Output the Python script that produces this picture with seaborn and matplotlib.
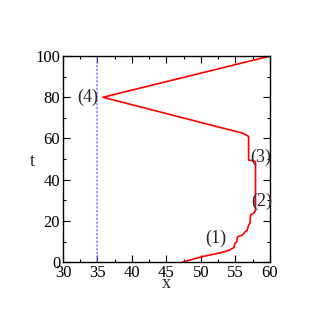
import matplotlib
matplotlib.use("Agg")
import matplotlib.pyplot as plt
import seaborn as sns
from matplotlib.ticker import MultipleLocator

# front path (x, t)
front_x = [47.3, 50.1, 52.8, 54.1, 54.8, 54.9, 55.2, 55.3, 56.0, 56.4, 56.7, 56.9,
           57.1, 57.2, 57.6, 57.9, 57.9, 57.6, 56.9, 56.9, 56.4, 56.0, 35.8, 60.0]
front_t = [0.0, 2.6, 4.5, 5.8, 7.1, 9.1, 9.9, 12.3, 13.1, 14.7, 15.5, 18.0,
           18.8, 23.1, 23.6, 25.0, 48.7, 49.2, 49.5, 61.0, 62.0, 62.6, 80.0, 100.0]

wall_x = [35, 35]
wall_t = [0, 100]

labels = ["(1)", "(2)", "(3)", "(4)"]
label_x = [52.2, 58.8, 58.7, 33.6]
label_t = [11.6, 29.6, 51.0, 80.0]

sns.set_style("ticks")
plt.rcParams['font.family'] = ['Liberation Serif', 'DejaVu Serif']

fig = plt.figure(figsize=(3.18, 3.26), dpi=100)
ax = fig.add_axes([0.198, 0.196, 0.651, 0.632])

sns.lineplot(x=wall_x, y=wall_t, ax=ax, color='#8080ff', lw=1.1,
             linestyle=(0, (1.5, 1.0)), sort=False, estimator=None)
sns.lineplot(x=front_x, y=front_t, ax=ax, color='red', lw=1.2,
             sort=False, estimator=None)

for s, lx, lt in zip(labels, label_x, label_t):
    ax.text(lx, lt, s, fontsize=13, ha='center', va='center')

ax.set_xlim(30, 60)
ax.set_ylim(0, 100)
ax.xaxis.set_major_locator(MultipleLocator(5))
ax.xaxis.set_minor_locator(MultipleLocator(2.5))
ax.yaxis.set_major_locator(MultipleLocator(20))
ax.yaxis.set_minor_locator(MultipleLocator(10))
ax.tick_params(which='both', direction='in', top=True, right=True,
               labelsize=12, width=0.8, colors='black', pad=2)
ax.tick_params(which='major', length=5)
ax.tick_params(which='minor', length=2.5)
for sp in ax.spines.values():
    sp.set_visible(True)
    sp.set_linewidth(1.0)
    sp.set_color('black')

ax.set_xlabel('x', fontsize=13, labelpad=-4)
ax.set_ylabel('t', fontsize=13, rotation=0, ha='center', va='center')
ax.yaxis.set_label_coords(-0.15, 0.49)

fig.savefig('out.png', dpi=100)
